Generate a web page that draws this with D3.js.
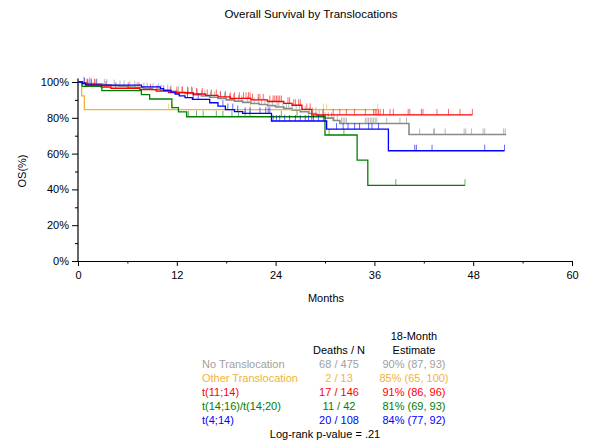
<!DOCTYPE html>
<html>
<head>
<meta charset="utf-8">
<script src="https://cdn.jsdelivr.net/npm/d3@7"></script>
<style>
  html, body { margin: 0; padding: 0; background: #fff; }
  svg { display: block; font-family: "Liberation Sans", Arial, sans-serif; }
</style>
</head>
<body>
<svg id="chart" width="589" height="445"></svg>
<script>
// Kaplan-Meier step estimates (months, % surviving) and censoring times per group
const groupNames = ["No Translocation", "Other Translocation", "t(11;14)", "t(14;16)/t(14;20)", "t(4;14)"];
const groupColors = ["#8a8a8a", "#f0b43c", "#ff0000", "#008000", "#0000ff"];
const legendColors = ["#a0a0a0", "#f0b43c", "#ff0000", "#008000", "#0000ff"];
const deathsN = ["68 / 475", "2 / 13", "17 / 146", "11 / 42", "20 / 108"];
const estimate18 = ["90% (87, 93)", "85% (65, 100)", "91% (86, 96)", "81% (69, 93)", "84% (77, 92)"];
const pValueText = "Log-rank p-value = .21";

const noTransTime = [0, 0.5, 1.0, 2.0, 3.0, 4.0, 5.0, 6.0, 7.0, 8.0, 9.0, 10.0, 11.0, 12.0, 13.0, 14.0, 15.0, 16.0, 17.0, 18.0, 19.0, 20.0, 21.0, 22.0, 23.0, 24.0, 25.0, 26.0, 27.0, 28.0, 29.0, 30.0, 31.0, 31.8, 40.2];
const noTransSurv = [100, 99.6, 99.2, 98.8, 98.4, 98.0, 97.6, 97.2, 96.8, 96.3, 95.8, 95.3, 94.8, 94.2, 93.6, 92.9, 92.2, 91.5, 90.8, 90.0, 89.3, 88.6, 88.0, 87.4, 86.8, 86.0, 85.2, 84.3, 83.4, 82.4, 81.2, 79.8, 78.5, 76.8, 70.7];
const noTransCensor = [0.7, 1.4, 1.6, 2.3, 3.2, 3.5, 4.4, 5.1, 5.6, 6.3, 6.9, 7.2, 8.0, 8.4, 9.1, 9.8, 10.1, 10.9, 11.3, 12.2, 12.6, 13.4, 13.9, 14.5, 15.0, 15.4, 16.1, 16.6, 17.3, 17.8, 18.4, 18.9, 19.5, 19.9, 20.6, 21.0, 21.4, 21.9, 22.3, 22.7, 23.2, 23.6, 24.2, 24.4, 24.9, 25.3, 25.6, 26.0, 26.5, 26.9, 27.2, 27.6, 28.1, 28.5, 28.9, 29.3, 29.7, 30.0, 30.4, 30.8, 31.1, 31.5, 32.0, 32.2, 32.4, 32.6, 34.9, 35.1, 35.3, 35.5, 35.7, 35.9, 36.1, 36.3, 37.5, 39.1, 39.9, 41.5, 43.2, 43.3, 44.6, 46.9, 47.1, 47.8, 49.2, 49.4, 51.7, 51.9];
const noTransEnd = 52.0;

const otherTime = [0, 0.45, 0.77];
const otherSurv = [100, 92.3, 84.6];
const otherCensor = [11.0, 11.5, 20.9, 29.8, 30.2, 36.4];
const otherEnd = 36.4;

const t1114Time = [0, 0.6, 1.0, 2.8, 4.0, 7.5, 9.5, 11.0, 14.0, 15.5, 17.0, 18.5, 21.0, 23.0, 25.0, 26.0, 27.2, 28.4];
const t1114Surv = [100, 99.3, 98.6, 97.2, 96.5, 95.7, 94.9, 94.1, 93.3, 92.5, 91.7, 90.9, 90.0, 89.1, 88.1, 87.0, 84.7, 81.6];
const t1114Censor = [1.1, 2.0, 3.4, 4.6, 6.1, 7.4, 8.8, 9.6, 10.4, 11.2, 12.0, 12.7, 13.3, 13.8, 14.4, 15.1, 15.7, 16.2, 16.8, 17.3, 17.9, 18.5, 19.0, 19.6, 20.1, 20.4, 20.7, 20.9, 21.2, 21.9, 22.1, 22.5, 23.3, 23.7, 23.9, 24.1, 24.3, 24.5, 24.7, 25.5, 25.7, 26.2, 26.4, 26.8, 27.0, 27.8, 28.2, 29.8, 31.0, 31.8, 32.6, 33.6, 34.9, 35.9, 36.1, 36.3, 36.5, 36.7, 37.1, 37.9, 38.3, 40.1, 40.3, 41.7, 41.9, 43.6, 45.0, 46.4, 47.9];
const t1114End = 47.9;

const t1416Time = [0, 0.5, 2.9, 7.7, 8.7, 11.4, 12.2, 13.2, 30.0, 33.9, 35.2];
const t1416Surv = [100, 97.6, 95.2, 92.9, 90.5, 85.7, 83.3, 80.6, 70.4, 56.4, 42.3];
const t1416Censor = [13.4, 14.4, 15.2, 16.8, 17.6, 18.7, 19.5, 20.3, 20.9, 24.7, 26.6, 30.5, 32.3, 38.6, 47.0];
const t1416End = 47.0;

const t414Time = [0, 0.5, 0.9, 7.7, 10.0, 10.4, 11.3, 11.8, 12.3, 13.0, 13.9, 16.0, 17.0, 17.9, 19.0, 20.0, 23.5, 30.2, 37.7];
const t414Surv = [100, 99.1, 98.2, 97.3, 96.3, 95.3, 94.3, 93.3, 92.3, 91.3, 90.3, 88.4, 86.5, 84.6, 83.5, 82.5, 78.2, 73.7, 61.6];
const t414Censor = [0.8, 1.2, 1.6, 2.2, 13.3, 14.0, 14.6, 17.6, 18.2, 18.8, 19.4, 20.3, 20.9, 22.1, 22.8, 23.1, 23.3, 23.7, 24.1, 24.5, 25.1, 25.7, 26.4, 27.0, 27.6, 28.0, 28.4, 28.6, 29.2, 29.8, 31.4, 32.2, 32.8, 33.6, 34.2, 35.3, 35.7, 36.5, 40.9, 41.1, 43.0, 49.4, 51.8];
const t414End = 51.8;

const xTicks = [0, 12, 24, 36, 48, 60];
const xMinorTicks = [6, 18, 30, 42, 54];
const yTicks = [0, 20, 40, 60, 80, 100];
const yMinorTicks = [10, 30, 50, 70, 90];

const curves = [
  { time: noTransTime, surv: noTransSurv, censor: noTransCensor, end: noTransEnd, width: 1.6 },
  { time: otherTime, surv: otherSurv, censor: otherCensor, end: otherEnd, width: 1.3 },
  { time: t1114Time, surv: t1114Surv, censor: t1114Censor, end: t1114End, width: 1.3 },
  { time: t1416Time, surv: t1416Surv, censor: t1416Censor, end: t1416End, width: 1.3 },
  { time: t414Time, surv: t414Surv, censor: t414Censor, end: t414End, width: 1.3 }
];

const svg = d3.select("#chart");
const x = d3.scaleLinear().domain([0, 60]).range([78, 572]);
const y = d3.scaleLinear().domain([0, 100]).range([261, 82]);

// title and axis titles
svg.append("text").attr("x", 311).attr("y", 18).attr("text-anchor", "middle")
  .attr("font-size", 11.5).attr("fill", "#000").text("Overall Survival by Translocations");
svg.append("text").attr("x", 326).attr("y", 302).attr("text-anchor", "middle")
  .attr("font-size", 11).attr("fill", "#000").text("Months");
svg.append("text").attr("transform", "translate(26,171) rotate(-90)").attr("text-anchor", "middle")
  .attr("font-size", 11).attr("fill", "#000").text("OS(%)");

// axes
const xAxis = d3.axisBottom(x).tickValues(xTicks).tickSize(5).tickSizeOuter(0).tickPadding(5).tickFormat(d3.format("d"));
const gx = svg.append("g").attr("transform", "translate(0,261)").call(xAxis);
gx.selectAll(".tick line").attr("stroke", "#000");
gx.select(".domain").attr("stroke", "#000");
gx.selectAll("text").attr("font-size", 11).attr("font-family", "Liberation Sans, Arial, sans-serif").attr("fill", "#000");
svg.append("g").attr("transform", "translate(0,261)")
  .call(d3.axisBottom(x).tickValues(xMinorTicks).tickSize(2.5).tickSizeOuter(0).tickFormat(""))
  .call(g => g.select(".domain").remove());

const yAxis = d3.axisLeft(y).tickValues(yTicks).tickSize(6).tickSizeOuter(0).tickPadding(3).tickFormat(d => d + "%");
const gy = svg.append("g").attr("transform", "translate(78,0)").call(yAxis);
gy.select(".domain").remove();
gy.selectAll("text").attr("font-size", 11).attr("font-family", "Liberation Sans, Arial, sans-serif").attr("fill", "#000");
svg.append("g").attr("transform", "translate(78,0)")
  .call(d3.axisLeft(y).tickValues(yMinorTicks).tickSize(3).tickSizeOuter(0).tickFormat(""))
  .call(g => g.select(".domain").remove());
svg.append("line").attr("x1", 78).attr("x2", 78).attr("y1", 78.5).attr("y2", 261)
  .attr("stroke", "#000").attr("stroke-width", 1.2);

// survival curves
function survAt(c, t) {
  let s = c.surv[0];
  for (let i = 0; i < c.time.length; i++) { if (c.time[i] <= t) s = c.surv[i]; }
  return s;
}
const stepLine = d3.line().x(d => x(d[0])).y(d => y(d[1])).curve(d3.curveStepAfter);

curves.forEach((c, i) => {
  const pts = c.time.map((t, k) => [t, c.surv[k]]);
  pts.push([c.end, c.surv[c.surv.length - 1]]);
  svg.append("path").attr("d", stepLine(pts)).attr("fill", "none")
    .attr("stroke", groupColors[i]).attr("stroke-width", c.width);
  svg.append("g").selectAll("line").data(c.censor).join("line")
    .attr("x1", d => x(d)).attr("x2", d => x(d))
    .attr("y1", d => y(survAt(c, d))).attr("y2", d => y(survAt(c, d)) - 6)
    .attr("stroke", groupColors[i]).attr("stroke-width", 1).attr("stroke-opacity", 0.6);
});

// summary table
const rowY = [368, 382, 396, 410, 424];
svg.append("text").attr("x", 414).attr("y", 340).attr("text-anchor", "middle").attr("font-size", 11).text("18-Month");
svg.append("text").attr("x", 339).attr("y", 354).attr("text-anchor", "middle").attr("font-size", 11).text("Deaths / N");
svg.append("text").attr("x", 414).attr("y", 354).attr("text-anchor", "middle").attr("font-size", 11).text("Estimate");
groupNames.forEach((name, i) => {
  svg.append("text").attr("x", 202).attr("y", rowY[i]).attr("font-size", 11).attr("fill", legendColors[i]).text(name);
  svg.append("text").attr("x", 339).attr("y", rowY[i]).attr("text-anchor", "middle").attr("font-size", 11).attr("fill", legendColors[i]).text(deathsN[i]);
  svg.append("text").attr("x", 414).attr("y", rowY[i]).attr("text-anchor", "middle").attr("font-size", 11).attr("fill", legendColors[i]).text(estimate18[i]);
});
svg.append("text").attr("x", 325).attr("y", 438).attr("text-anchor", "middle").attr("font-size", 11).text(pValueText);
</script>
</body>
</html>
